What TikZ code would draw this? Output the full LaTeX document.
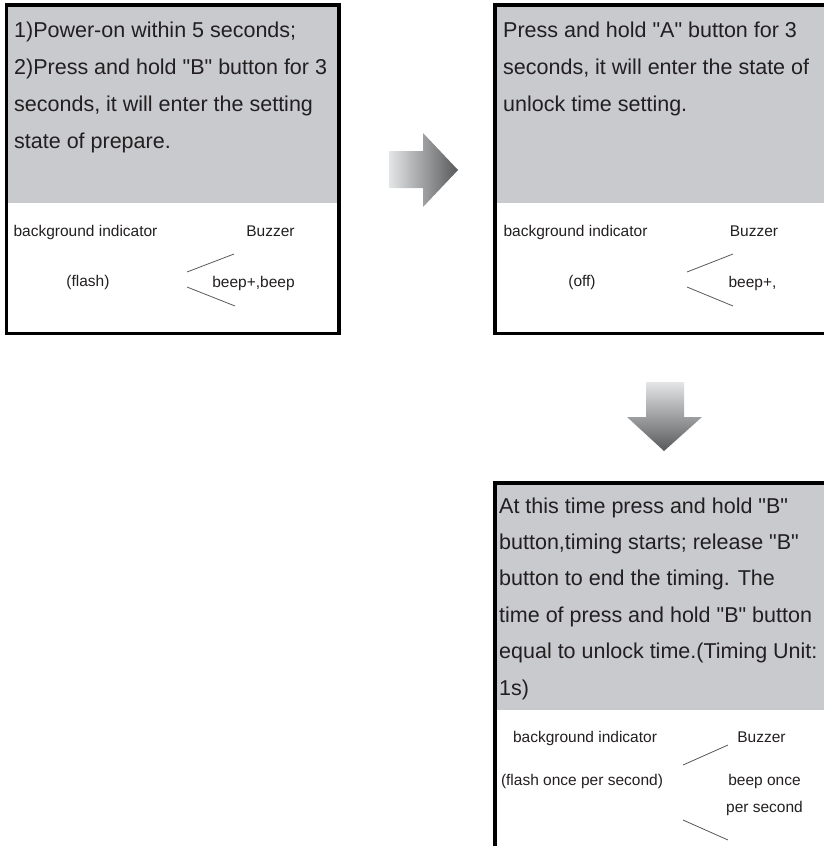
\documentclass[tikz,border=0pt]{standalone}
\usepackage{fontspec}
\setmainfont{Liberation Sans}
\definecolor{panel}{RGB}{200,202,205}
\definecolor{ink}{RGB}{35,31,32}
\definecolor{arrowlight}{RGB}{228,229,231}
\definecolor{arrowdark}{RGB}{88,89,91}

\begin{document}
\begin{tikzpicture}[x=1pt,y=-1pt,
  frame/.style={draw=black,line width=3.5pt},
  bigtext/.style={anchor=base west,inner sep=0,align=left,text=ink,font=\fontsize{21.5}{37}\selectfont},
  smalltext/.style={anchor=base,inner sep=0,text=ink,font=\fontsize{15.5}{27}\selectfont},
  tick/.style={draw=black!65,line width=0.8pt}]

  \useasboundingbox (0,0) rectangle (824,846);
  \clip (0,0) rectangle (824,846);

  % Box 1: prepare (node placed at baseline of its last line)
  \fill[panel] (6.5,5) rectangle (339,203);
  \draw[frame] (6.5,5) rectangle (339,333.5);
  \node[bigtext] (prep) at (14,148) {1)Power-on within 5 seconds;\\2)Press and hold \textquotedbl B\textquotedbl{} button for 3\\seconds, it will enter the setting\\state of prepare.};
  \node[smalltext] (ind1) at (85.5,236) {background indicator};
  \node[smalltext] (buz1) at (270.5,236) {Buzzer};
  \node[smalltext] (led1) at (88,286) {(flash)};
  \node[smalltext] (beep1) at (253.5,287) {beep+,beep};
  \draw[tick] (187,272) -- (234,254);
  \draw[tick] (187,287) -- (235,306);

  % Arrow right
  \shade[left color=arrowlight,right color=arrowdark]
    (389,151) -- (423,151) -- (423,133) -- (458,170) -- (423,207) -- (423,188) -- (389,188) -- cycle;

  % Box 2: unlock time setting
  \fill[panel] (495,5) rectangle (830,203);
  \draw[frame] (495,5) rectangle (830,333.5);
  \node[bigtext] (unlock) at (503,111) {Press and hold \textquotedbl A\textquotedbl{} button for 3\\seconds, it will enter the state of\\unlock time setting.};
  \node[smalltext] (ind2) at (575.5,236) {background indicator};
  \node[smalltext] (buz2) at (754,236) {Buzzer};
  \node[smalltext] (led2) at (582,286) {(off)};
  \node[smalltext] (beep2) at (752.5,287) {beep+,};
  \draw[tick] (687,272) -- (733,254);
  \draw[tick] (687,287) -- (733,306);

  % Arrow down
  \shade[top color=arrowlight,bottom color=arrowdark]
    (646,382) -- (684,382) -- (684,417) -- (702,417) -- (664,451) -- (627,417) -- (646,417) -- cycle;

  % Box 3: timing
  \fill[panel] (495,483) rectangle (830,710);
  \draw[frame] (495,483) rectangle (830,870);
  \node[bigtext,font=\fontsize{21.5}{36.4}\selectfont] (timing) at (499,695) {At this time press and hold \textquotedbl B\textquotedbl\\button,timing starts; release \textquotedbl B\textquotedbl\\button to end the timing. The\\time of press and hold \textquotedbl B\textquotedbl{} button\\equal to unlock time.(Timing Unit:\\1s)};
  \node[smalltext] (ind3) at (585,742) {background indicator};
  \node[smalltext] (buz3) at (761.5,742) {Buzzer};
  \node[smalltext] (led3) at (582,785) {(flash once per second)};
  \node[smalltext,align=center] (beep3) at (764.5,812) {beep once\\per second};
  \draw[tick] (683,765) -- (728,745);
  \draw[tick] (683,820) -- (728,840);

\end{tikzpicture}
\end{document}
